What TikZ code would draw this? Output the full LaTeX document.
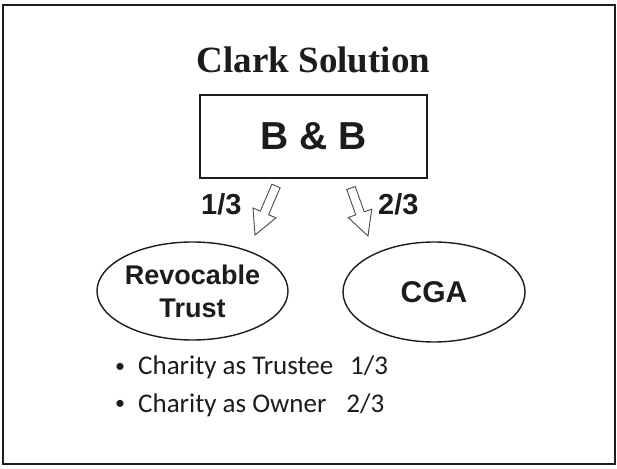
\documentclass[tikz,border=0pt]{standalone}
\usepackage{fontspec}
\setmainfont{Liberation Serif}
\newfontfamily\arialf{Liberation Sans}
\newfontfamily\calibrif{Carlito}
\usetikzlibrary{shapes.geometric}
\definecolor{ink}{HTML}{1C1C1C}
\tikzset{
  frameline/.style={draw=ink, line width=2pt},
  boxline/.style={draw=ink, line width=1.8pt},
  ellline/.style={ellipse, draw=ink, line width=1.4pt, inner sep=0pt, text=ink},
  arrowline/.style={draw=ink!80, line width=0.9pt, line join=miter, fill=white},
  pics/barrow/.style={code={
    \draw[arrowline] (0,-4.5) -- (#1-24,-4.5) -- (#1-24,-12.5) -- (#1,0)
      -- (#1-24,12.5) -- (#1-24,4.5) -- (0,4.5) -- cycle;}},
  sanslabel/.style={text=ink, inner sep=0pt, font=\arialf\bfseries\fontsize{29}{32}\selectfont},
  bullettext/.style={text=ink, inner sep=0pt, anchor=base west, font=\calibrif\fontsize{27}{32}\selectfont},
  bulletdot/.style={text=ink, inner sep=0pt, anchor=center, font=\calibrif\fontsize{20}{24}\selectfont},
}
\begin{document}
\begin{tikzpicture}[x=1pt, y=1pt]
\useasboundingbox (0,0) rectangle (617,468);
\fill[white] (0,0) rectangle (617,468);
\draw[frameline] (3,463) rectangle (615,4);

\node[text=ink, inner sep=0pt, anchor=base, font=\bfseries\fontsize{37}{44}\selectfont] (title) at (313.5,395) {Clark Solution};

\node[boxline, minimum width=227pt, minimum height=83pt, inner sep=0pt, text=ink,
      font=\arialf\bfseries\fontsize{39}{44}\selectfont] (bb) at (313.5,331.5) {B \& B};

\pic at (276,282) [rotate=246.8] {barrow=53.3};
\pic at (351,280) [rotate=289.5] {barrow=50.9};

\node[sanslabel, anchor=base west] (l13) at (201,253) {1/3};
\node[sanslabel, anchor=base west] (l23) at (378,253) {2/3};

\node[ellline, minimum width=181pt, minimum height=98pt, align=center,
      font=\arialf\bfseries\fontsize{27}{33}\selectfont] (rt) at (192.5,177) {Revocable\\Trust};
\node[ellline, minimum width=182pt, minimum height=100pt,
      font=\arialf\bfseries\fontsize{30}{34}\selectfont] (cga) at (434,176) {CGA};

\node[bulletdot] (b1) at (120,100) {•};
\node[bullettext] (t1) at (138,93) {Charity as Trustee\hspace{17pt}1/3};
\node[bulletdot] (b2) at (120,63) {•};
\node[bullettext] (t2) at (138,56) {Charity as Owner\hspace{20pt}2/3};
\end{tikzpicture}
\end{document}
